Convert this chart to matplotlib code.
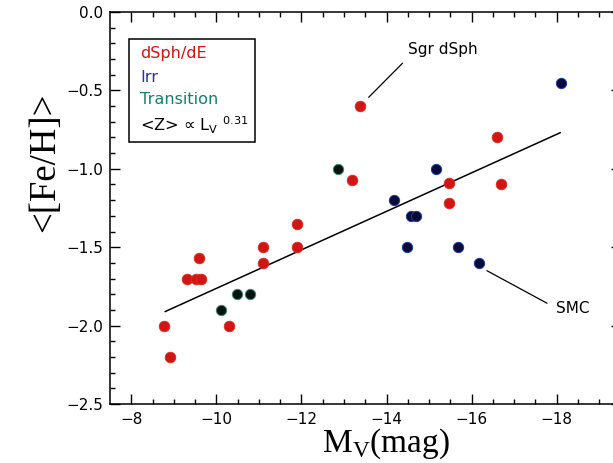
import numpy as np
import matplotlib
matplotlib.use('Agg')
import matplotlib.pyplot as plt
from matplotlib.patches import Rectangle

# dSph/dE galaxies
dsph_mv = [-8.78, -8.90, -9.30, -9.53, -9.63, -9.59, -10.29, -11.09, -11.09,
           -11.90, -11.90, -13.19, -13.38, -15.46, -15.46, -16.59, -16.69]
dsph_feh = [-2.0, -2.2, -1.7, -1.7, -1.7, -1.57, -2.0, -1.5, -1.6,
            -1.35, -1.5, -1.07, -0.6, -1.09, -1.22, -0.8, -1.1]

# irregulars
irr_mv = [-14.18, -14.58, -14.69, -14.48, -15.17, -15.69, -16.18, -18.09]
irr_feh = [-1.2, -1.3, -1.3, -1.5, -1.0, -1.5, -1.6, -0.45]

# transition types
trans_mv = [-10.10, -10.49, -10.80, -12.87]
trans_feh = [-1.9, -1.8, -1.8, -1.0]

# <Z> ~ L_V^0.31 fit, end points
fit_mv = [-8.80, -18.08]
fit_feh = [-1.91, -0.77]

legend_labels = ['dSph/dE', 'Irr', 'Transition',
                 '<Z> \u221d L$_\\mathregular{V}$ $^\\mathregular{0.31}$']
legend_colors = ['#d01515', '#2a34a8', '#14806a', 'black']


def make_plot():
    plt.rcParams['font.family'] = 'DejaVu Sans'
    plt.rcParams['mathtext.fontset'] = 'custom'
    plt.rcParams['mathtext.rm'] = 'Liberation Serif'

    fig = plt.figure(figsize=(6.13, 4.63), dpi=100)
    ax = fig.add_axes([0.1794, 0.1274, 0.833, 0.8467])

    ax.scatter(dsph_mv, dsph_feh, s=60, color='#d01515', edgecolors='#e03020',
               linewidths=0.5, zorder=3)
    ax.scatter(irr_mv, irr_feh, s=55, color='#0a0a3a', edgecolors='#1a3aa0',
               linewidths=0.7, zorder=3)
    ax.scatter(trans_mv, trans_feh, s=55, color='#06130e', edgecolors='#3a8a70',
               linewidths=0.7, zorder=3)
    ax.plot(fit_mv, fit_feh, color='black', lw=1.1, zorder=2)

    ax.annotate('Sgr dSph', xy=(-13.58, -0.544), xytext=(-14.51, -0.242),
                fontsize=11, va='center', ha='left',
                arrowprops=dict(arrowstyle='-', color='black', lw=0.9,
                                relpos=(0, 0), shrinkA=3, shrinkB=0))
    ax.annotate('SMC', xy=(-16.36, -1.65), xytext=(-17.98, -1.888),
                fontsize=11, va='center', ha='left',
                arrowprops=dict(arrowstyle='-', color='black', lw=0.9,
                                relpos=(0, 0.5), shrinkA=5, shrinkB=0))

    # legend box
    ax.add_patch(Rectangle((0.0378, 0.669), 0.246, 0.261, transform=ax.transAxes,
                           fill=False, edgecolor='black', lw=1.1, zorder=4))
    for i, (lab, col) in enumerate(zip(legend_labels, legend_colors)):
        ax.text(0.0588, [0.895, 0.834, 0.776, 0.712][i], lab, color=col,
                fontsize=11.6, va='center', ha='left', transform=ax.transAxes)

    ax.set_xlim(-7.5, -19.5)
    ax.set_ylim(-2.5, 0.0)
    ax.set_xticks([-8, -10, -12, -14, -16, -18])
    ax.set_xticks(np.arange(-8, -19.6, -0.5), minor=True)
    ax.set_yticks([0.0, -0.5, -1.0, -1.5, -2.0, -2.5])
    ax.set_yticks(np.arange(0.0, -2.55, -0.1), minor=True)
    ax.set_yticklabels(['0.0', '\u22120.5', '\u22121.0', '\u22121.5', '\u22122.0', '\u22122.5'])
    ax.tick_params(which='both', direction='in', top=True, right=True,
                   labelsize=11, width=1.0)
    ax.tick_params(which='major', length=7)
    ax.tick_params(which='minor', length=3.5)
    ax.tick_params(axis='x', pad=6)
    ax.tick_params(axis='y', pad=5)
    for sp in ax.spines.values():
        sp.set_linewidth(1.1)

    ax.set_xlabel('M$_\\mathregular{V}$(mag)', fontsize=24, family='Liberation Serif',
                  va='baseline')
    ax.xaxis.set_label_coords(0.5405, -0.1224)
    ax.set_ylabel('<[Fe/H]>', fontsize=26.5, family='Liberation Serif', va='center')
    ax.yaxis.set_label_coords(-0.1273, 0.617)

    plt.savefig('out.png', dpi=100)


def main():
    make_plot()


if __name__ == "__main__":
    main()
